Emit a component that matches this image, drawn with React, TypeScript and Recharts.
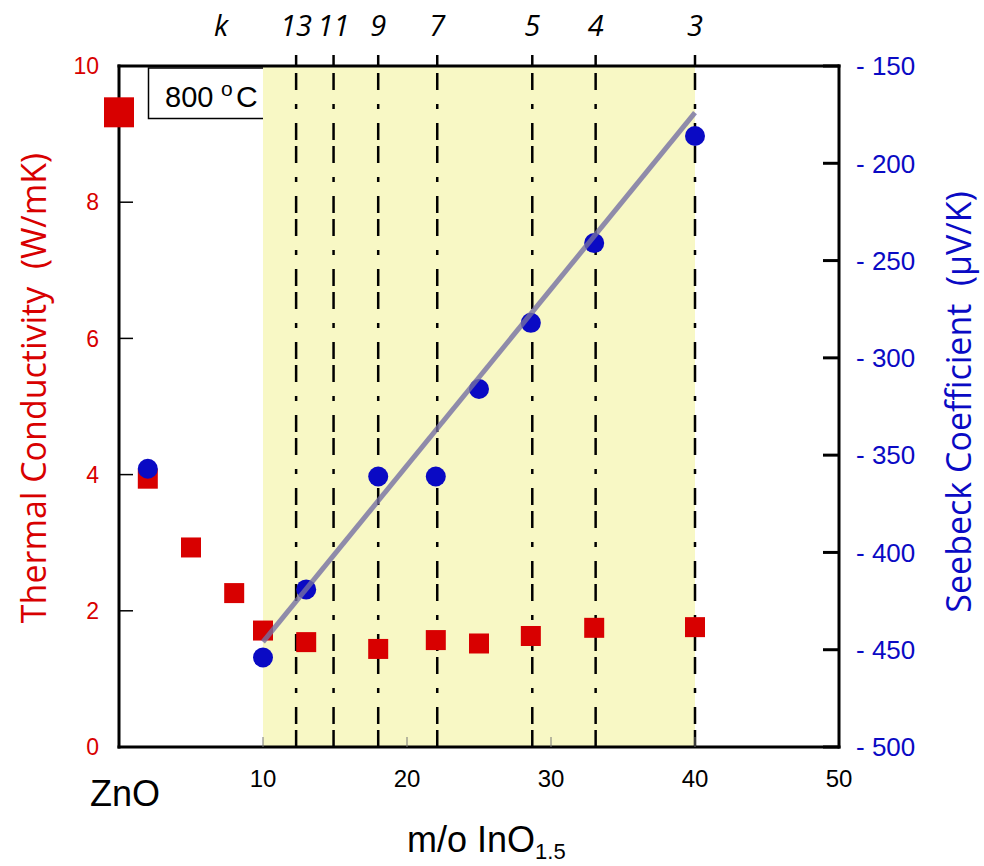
import React from 'react';
import {
  ComposedChart,
  Scatter,
  Line,
  XAxis,
  YAxis,
  ReferenceArea,
  ReferenceLine,
  Customized,
} from 'recharts';

// ---- data ----
const tcZnO = [{ x: 0, y: 9.32 }];
const tcData = [
  { x: 2, y: 3.94 },
  { x: 5, y: 2.93 },
  { x: 8, y: 2.26 },
  { x: 10, y: 1.71 },
  { x: 13, y: 1.54 },
  { x: 18, y: 1.44 },
  { x: 22, y: 1.57 },
  { x: 25, y: 1.52 },
  { x: 28.6, y: 1.63 },
  { x: 33, y: 1.75 },
  { x: 40, y: 1.76 },
];
const seebeckData = [
  { x: 2, y: -357 },
  { x: 10, y: -454 },
  { x: 13, y: -419 },
  { x: 18, y: -361 },
  { x: 22, y: -361 },
  { x: 25, y: -316 },
  { x: 28.6, y: -282 },
  { x: 33, y: -241 },
  { x: 40, y: -186 },
];
const fitLine = [
  { x: 10, y: -446 },
  { x: 40, y: -174 },
];
const kPositions = [12.3, 14.9, 18.0, 22.1, 28.7, 33.1, 40.0];
const kLabels = ['13', '11', '9', '7', '5', '4', '3'];
const xTicks = [10, 20, 30, 40, 50];
const topTicks = [10, 20, 30, 40];
const tcTicks = [0, 2, 4, 6, 8, 10];
const seebeckTicks = [-500, -450, -400, -350, -300, -250, -200, -150];
const shadedRange = [10, 40];

// ---- styles ----
const RED = '#d80000';
const BLUE = '#0a0ac4';
const ARIAL = "'Liberation Sans', Arial, sans-serif";
const HUMAN = "'Open Sans', 'Noto Sans', sans-serif";
const DASH = '17 6 17 14 5 14';

const Square = (size: number) => (p: any) => (
  <rect x={p.cx - size / 2} y={p.cy - size / 2} width={size} height={size} fill={RED} />
);
const Dot = (p: any) => <circle cx={p.cx} cy={p.cy} r={10} fill={BLUE} />;

const kLabel = (text: string) => (p: any) => {
  const vb = p.viewBox || {};
  const x = vb.x;
  const y = vb.y;
  return (
    <g>
      <line x1={x} x2={x} y1={y - 11} y2={y} stroke="#000" strokeWidth={2.5} />
      <text
        x={x}
        y={y - 30}
        textAnchor="middle"
        fontStyle="italic"
        fontFamily={HUMAN}
        fontSize={29}
        fill="#000"
      >
        {text}
      </text>
    </g>
  );
};

const Annotations = () => (
  <g>
    <text x={221} y={36} textAnchor="middle" fontStyle="italic" fontFamily={HUMAN} fontSize={29} fill="#000">
      k
    </text>
    <rect x={148.5} y={68} width={133.5} height={50.5} fill="none" stroke="#000" strokeWidth={1.5} />
    <text fontFamily={ARIAL} fill="#000">
      <tspan x={165} y={107} fontSize={29}>800</tspan>
      <tspan x={221} y={96} fontSize={21}>o</tspan>
      <tspan x={236} y={107} fontSize={30}>C</tspan>
    </text>
    <text x={90} y={806} fontFamily={ARIAL} fontSize={36} fill="#000">
      ZnO
    </text>
    <text x={407} y={852} fontFamily={ARIAL} fontSize={36} fill="#000">
      <tspan>m/o InO</tspan>
      <tspan fontSize={22} dy={7}>1.5</tspan>
    </text>
    <text
      transform="translate(46,388) rotate(-90)"
      textAnchor="middle"
      fontFamily={HUMAN}
      fontSize={34}
      fill={RED}
      style={{ whiteSpace: 'pre' }}
    >
      {'Thermal Conductivity  (W/mK)'}
    </text>
    <text
      transform="translate(971,402) rotate(-90)"
      textAnchor="middle"
      fontFamily={HUMAN}
      fontSize={34}
      fill={BLUE}
      style={{ whiteSpace: 'pre' }}
    >
      {'Seebeck Coefficient  (\u03bcV/K)'}
    </text>
  </g>
);

export default function App() {
  const axisLine = { stroke: '#000', strokeWidth: 3, strokeLinecap: 'square' as const };
  return (
    <div style={{ position: 'absolute', left: 0, top: 0, width: 984, height: 866, background: '#fff' }}>
      <ComposedChart width={984} height={866} margin={{ top: 0, right: 0, bottom: 0, left: 0 }}>
        <ReferenceArea
          xAxisId="b"
          yAxisId="l"
          x1={shadedRange[0]}
          x2={shadedRange[1]}
          y1={0}
          y2={10}
          fill="#f8f8c5"
          fillOpacity={1}
          stroke="none"
        />
        <XAxis
          xAxisId="b"
          type="number"
          dataKey="x"
          orientation="bottom"
          domain={[0, 50]}
          ticks={xTicks}
          interval={0}
          height={119}
          axisLine={axisLine}
          tickLine={{ stroke: '#777', strokeWidth: 1 }}
          tickSize={-10}
          tickMargin={33}
          tick={{ fill: '#000', fontSize: 24, fontFamily: ARIAL }}
        />
        <XAxis
          xAxisId="t"
          type="number"
          dataKey="x"
          orientation="top"
          domain={[0, 50]}
          ticks={topTicks}
          interval={0}
          height={66}
          axisLine={axisLine}
          tickLine={{ stroke: '#777', strokeWidth: 1 }}
          tickSize={-10}
          tick={false}
        />
        <YAxis
          yAxisId="l"
          type="number"
          orientation="left"
          domain={[0, 10]}
          ticks={tcTicks}
          interval={0}
          width={119}
          axisLine={axisLine}
          tickLine={{ stroke: '#000', strokeWidth: 1.5 }}
          tickSize={-14}
          tickMargin={34}
          tick={{ fill: RED, fontSize: 23, fontFamily: ARIAL }}
        />
        <YAxis
          yAxisId="r"
          type="number"
          orientation="right"
          domain={[-500, -150]}
          ticks={seebeckTicks}
          interval={0}
          width={145}
          axisLine={axisLine}
          tickLine={{ stroke: '#000', strokeWidth: 3 }}
          tickSize={-16}
          tickMargin={33}
          tickFormatter={(v: number) => `- ${Math.abs(v)}`}
          tick={{ fill: BLUE, fontSize: 26, fontFamily: ARIAL, textAnchor: 'start' }}
        />
        {kPositions.map((k, i) => (
          <ReferenceLine
            key={`k${i}`}
            xAxisId="b"
            yAxisId="l"
            x={k}
            stroke="#000"
            strokeWidth={2.5}
            strokeDasharray={DASH}
            label={kLabel(kLabels[i])}
          />
        ))}
        <Scatter
          xAxisId="b"
          yAxisId="l"
          data={tcZnO}
          dataKey="y"
          shape={Square(30)}
          isAnimationActive={false}
        />
        <Scatter
          xAxisId="b"
          yAxisId="l"
          data={tcData}
          dataKey="y"
          shape={Square(20)}
          isAnimationActive={false}
        />
        <Scatter
          xAxisId="b"
          yAxisId="r"
          data={seebeckData}
          dataKey="y"
          shape={Dot}
          isAnimationActive={false}
        />
        <Line
          xAxisId="b"
          yAxisId="r"
          data={fitLine}
          dataKey="y"
          type="linear"
          stroke="#746fa2"
          strokeOpacity={0.8}
          strokeWidth={5}
          dot={false}
          activeDot={false}
          isAnimationActive={false}
          zIndex={700}
        />
        <Customized component={Annotations} />
      </ComposedChart>
    </div>
  );
}
